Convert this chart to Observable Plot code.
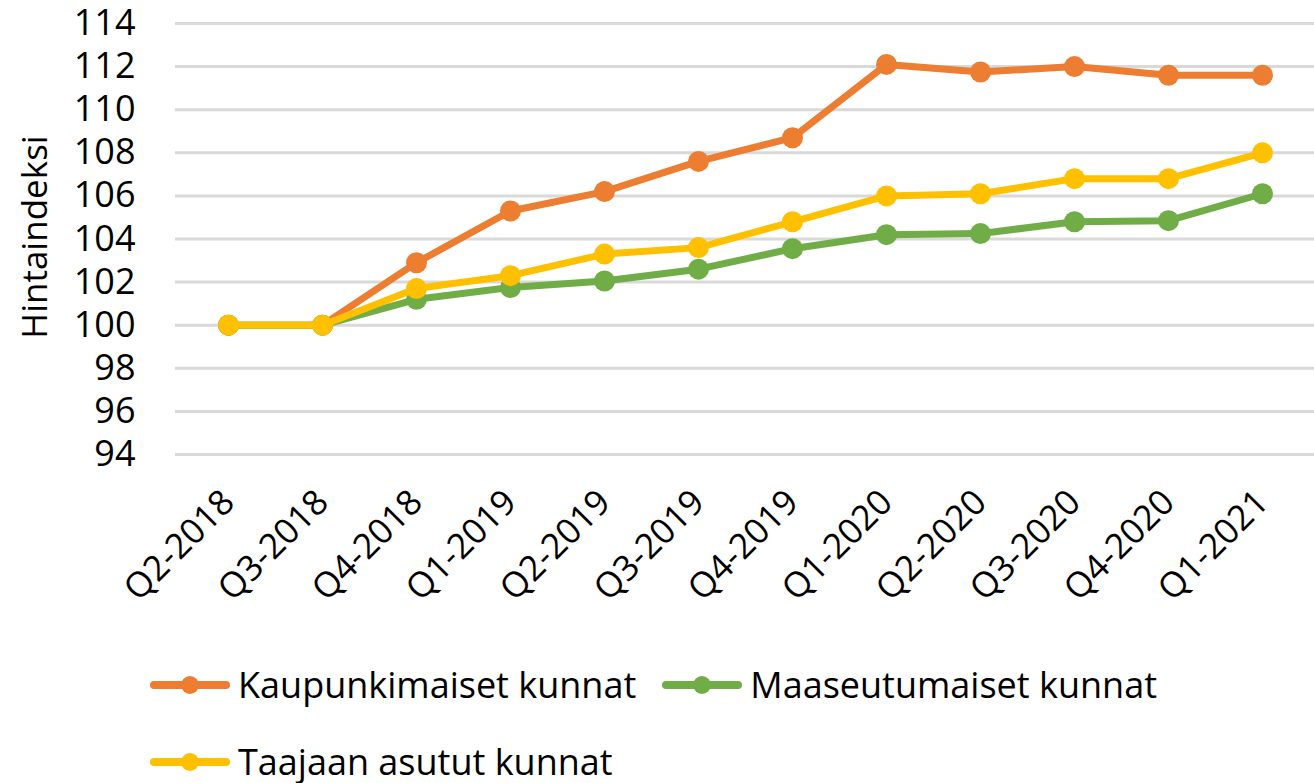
<!DOCTYPE html>
<html><head><meta charset="utf-8">
<script src="https://cdn.jsdelivr.net/npm/d3@7"></script>
<script src="https://cdn.jsdelivr.net/npm/@observablehq/plot@0.6"></script>
<style>
body{margin:0;background:#fff;font-family:"Open Sans",sans-serif;color:#000;}
#chart svg{display:block;}
#legend{width:1164px;padding-left:150px;padding-top:6px;display:flex;flex-wrap:wrap;column-gap:26px;}
.item{display:flex;align-items:center;height:77px;font-size:36px;line-height:1;}
.item svg{margin-right:8px;}
</style></head><body><div id="chart"></div><div id="legend"></div>
<script>
const quarters = ["Q2-2018","Q3-2018","Q4-2018","Q1-2019","Q2-2019","Q3-2019","Q4-2019","Q1-2020","Q2-2020","Q3-2020","Q4-2020","Q1-2021"];
const kaupunkimaiset = [100, 100, 102.9, 105.3, 106.2, 107.6, 108.7, 112.1, 111.75, 112.0, 111.6, 111.6];
const maaseutumaiset = [100, 100, 101.2, 101.75, 102.05, 102.6, 103.55, 104.2, 104.25, 104.8, 104.85, 106.1];
const taajaan = [100, 100, 101.7, 102.3, 103.3, 103.6, 104.8, 106.0, 106.1, 106.8, 106.8, 108.0];
const seriesNames = ["Kaupunkimaiset kunnat","Maaseutumaiset kunnat","Taajaan asutut kunnat"];
const seriesColors = ["#ED7D31","#70AD47","#FFC000"];
const yTicks = [94,96,98,100,102,104,106,108,110,112,114];
const yLabel = "Hintaindeksi";

const seriesValues = [kaupunkimaiset, maaseutumaiset, taajaan];
const seriesData = seriesValues.map((vals, i) => quarters.map((q, j) => ({q, v: vals[j], s: seriesNames[i]})));

const seriesMarks = seriesData.flatMap((d, i) => [
  Plot.line(d, {x: "q", y: "v", stroke: seriesColors[i], strokeWidth: 7}),
  Plot.dot(d, {x: "q", y: "v", fill: seriesColors[i], r: 10.5})
]);

const plot = Plot.plot({
  width: 1314, height: 640,
  marginLeft: 175, marginRight: 0, marginTop: 23, marginBottom: 186,
  style: {fontFamily: "Open Sans", fontSize: "36px", color: "#000", background: "#fff"},
  x: {type: "point", domain: quarters, padding: 0.5, label: null},
  y: {domain: [94, 114], label: null},
  marks: [
    Plot.ruleY(yTicks, {stroke: "#d9d9d9", strokeWidth: 3}),
    Plot.axisY({ticks: yTicks, tickSize: 0, tickPadding: 40, label: null, fontSize: 36}),
    Plot.axisX({tickRotate: -45, tickSize: 0, tickPadding: 42, label: null, fontSize: 35}),
    ...seriesMarks,
    Plot.text([yLabel], {text: d => d, frameAnchor: "left", textAnchor: "middle", rotate: -90, dx: -140, dy: -2, fontSize: 35, fill: "#000"})
  ]
});
document.getElementById("chart").appendChild(plot);

const legend = document.getElementById("legend");
seriesNames.forEach((name, i) => {
  const item = document.createElement("div");
  item.className = "item";
  item.innerHTML = `<svg width="80" height="24"><line x1="4" y1="12" x2="76" y2="12" stroke="${seriesColors[i]}" stroke-width="8" stroke-linecap="round"/><circle cx="40" cy="12" r="9" fill="${seriesColors[i]}"/></svg><span>${name}</span>`;
  legend.appendChild(item);
});
</script>
</body></html>
